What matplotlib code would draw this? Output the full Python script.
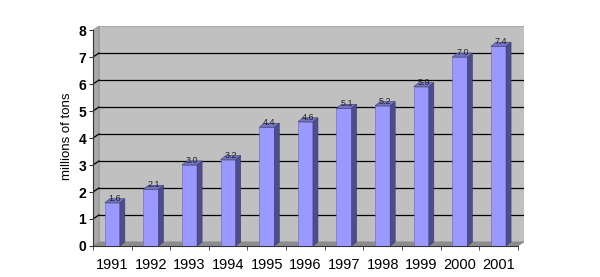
import matplotlib
matplotlib.use("Agg")
import matplotlib.pyplot as plt
from matplotlib.patches import Polygon, Rectangle

years = ['1991', '1992', '1993', '1994', '1995', '1996', '1997', '1998', '1999', '2000', '2001']
tons = [1.6, 2.1, 3.0, 3.2, 4.4, 4.6, 5.1, 5.2, 5.9, 7.0, 7.4]
value_labels = ['1.6', '2.1', '3.0', '3.2', '4.4', '4.6', '5.1', '5.2', '5.9', '7.0', '7.4']

plt.rcParams['font.family'] = ['Liberation Sans', 'DejaVu Sans']

fig = plt.figure(figsize=(6, 2.77), dpi=100)
ax = fig.add_axes([0.155, 0.112, 0.718, 0.794])

n = len(years)
ymax = 8
ddx, ddy = 0.155, 0.15      # wall depth offset (data units)
bdx, bdy = 0.13, 0.15       # bar depth offset
w = 0.39

ax.set_xlim(-0.5, n - 0.5 + ddx)
ax.set_ylim(0, ymax + ddy)

# walls and floor
ax.add_patch(Rectangle((-0.5 + ddx, ddy), n, ymax, facecolor='#c0c0c0', edgecolor='#a0a0a0', lw=0.6, zorder=0))
ax.add_patch(Polygon([(-0.5, 0), (-0.5 + ddx, ddy), (-0.5 + ddx, ymax + ddy), (-0.5, ymax)],
                     facecolor='#a8a8a8', edgecolor='#909090', lw=0.6, zorder=0))
ax.add_patch(Polygon([(-0.5, 0), (n - 0.5, 0), (n - 0.5 + ddx, ddy), (-0.5 + ddx, ddy)],
                     facecolor='#8c8c8c', edgecolor='#8c8c8c', lw=0.6, zorder=0))

# gridlines on back and side wall
for k in range(1, ymax):
    ax.plot([-0.5 + ddx, n - 0.5 + ddx], [k + ddy, k + ddy], color='black', lw=0.9, zorder=1)
    ax.plot([-0.5, -0.5 + ddx], [k, k + ddy], color='black', lw=0.9, zorder=1)

# bars
xs = list(range(n))
ax.bar(xs, tons, width=w, color='#9999ff', edgecolor='#6666aa', lw=0.4, zorder=3)
for x, v, lab in zip(xs, tons, value_labels):
    r = x + w / 2
    l = x - w / 2
    ax.add_patch(Polygon([(r, 0), (r + bdx, bdy), (r + bdx, v + bdy), (r, v)],
                         facecolor='#4d4d8c', edgecolor='#3a3a70', lw=0.4, zorder=3))
    ax.add_patch(Polygon([(l, v), (r, v), (r + bdx, v + bdy), (l + bdx, v + bdy)],
                         facecolor='#7373c8', edgecolor='#3a3a70', lw=0.4, zorder=3))
    ax.text(x + bdx / 2, v + 0.0, lab, ha='center', va='bottom', fontsize=6.5,
            color='#222222', zorder=4)

for s in ['top', 'right']:
    ax.spines[s].set_visible(False)
ax.spines['left'].set_color('#333333')
ax.spines['bottom'].set_color('#333333')
ax.spines['left'].set_bounds(0, ymax)
ax.spines['bottom'].set_bounds(-0.5, n - 0.5)

ax.set_yticks(range(0, ymax + 1))
ax.set_yticklabels([str(i) for i in range(0, ymax + 1)], fontsize=10, fontweight='bold')
ax.set_xticks(xs)
ax.set_xticklabels(years, fontsize=10.5)
ax.set_xticks([i + 0.5 for i in range(-1, n)], minor=True)
ax.tick_params(axis='x', which='major', length=0, pad=9)
ax.tick_params(axis='x', which='minor', length=3, color='#333333')
ax.tick_params(axis='y', length=3, color='#333333', pad=2)
ax.set_ylabel('millions of tons', fontsize=9.5, labelpad=4)

fig.savefig('out.png', dpi=100)
